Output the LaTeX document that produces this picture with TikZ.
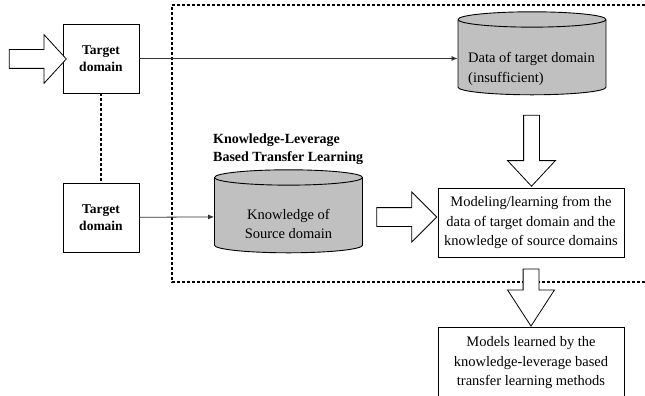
\documentclass[tikz,border=0pt]{standalone}
\usepackage{fontspec}
\setmainfont{Liberation Serif}
\usetikzlibrary{shapes.geometric,shapes.arrows,arrows.meta}
\definecolor{cylgray}{RGB}{192,192,192}
\definecolor{linegray}{RGB}{50,50,50}
\tikzset{
  tbox/.style={draw, line width=0.9pt, minimum width=76, minimum height=69, align=center, font=\rmfamily\fontsize{13.5}{17.5}\selectfont\bfseries},
  box/.style={draw, line width=0.9pt, minimum width=186, minimum height=69, align=center, font=\rmfamily\fontsize{14.5}{19.5}\selectfont},
  cyl/.style={cylinder, shape border rotate=90, draw, line width=0.9pt, fill=cylgray, aspect=2.3, minimum width=148, minimum height=83},
  hollow/.style={single arrow, draw, line width=0.8pt, fill=white, inner xsep=0pt, inner ysep=#1},
  frame/.style={line width=1.6pt, dash pattern=on 3pt off 2pt},
  link/.style={linegray, line width=0.8pt, -{Latex[length=6pt,width=5pt]}}
}
\begin{document}
\begin{tikzpicture}[x=1pt,y=1pt]
	\useasboundingbox (0,0) rectangle (645,-396);
	\clip (0,0) rectangle (645,-396);
	% source side
	\node[tbox] (tgt1) at (101,-58.5) {Target\\domain};
	\node[tbox] (tgt2) at (101,-217.5) {Target\\domain};
	\node[hollow=9, minimum height=57, single arrow head extend=15, single arrow tip angle=95] (input) at (33.5,-59) {};
	% knowledge-leverage part
	\draw[frame] (660,-5) -| (172,-282) -- (660,-282);
	\node[cyl] (data) at (532,-58.5) {};
	\node[anchor=west, align=left, inner sep=0pt, font=\rmfamily\fontsize{14.5}{19.5}\selectfont] (datatxt) at (468,-69) {Data of target domain\\(insufficient)};
	\node[cyl] (know) at (288.5,-216.5) {};
	\node[align=center, font=\rmfamily\fontsize{14.5}{19.5}\selectfont] (knowtxt) at (know.center) [yshift=-7.5] {Knowledge of\\Source domain};
	\node[anchor=north west, align=left, inner sep=0pt, font=\rmfamily\fontsize{14}{18}\selectfont\bfseries] (kltitle) at (213,-134) {Knowledge-Leverage\\Based Transfer Learning};
	\node[box] (model) at (531,-222.5) {Modeling/learning from the\\data of target domain and the\\knowledge of source domains};
	\node[hollow=7.5, minimum height=71, rotate=-90, single arrow head extend=16, single arrow tip angle=86] (down1) at (531.5,-146.5) {};
	\node[hollow=9, minimum height=60, single arrow head extend=15.5, single arrow tip angle=90] (right) at (402,-217) {};
	% result
	\node[hollow=7.5, minimum height=57, rotate=-90, single arrow head extend=15.5, single arrow tip angle=66] (down2) at (531,-291.5) {};
	\node[box, minimum height=72] (result) at (531,-363) {Models learned by the\\knowledge-leverage based\\transfer learning methods};
	% connectors
	\draw[link] (tgt1) -- (data);
	\draw[link] (tgt2) -- (know);
	\draw[frame] (tgt1) -- (tgt2);
\end{tikzpicture}
\end{document}
